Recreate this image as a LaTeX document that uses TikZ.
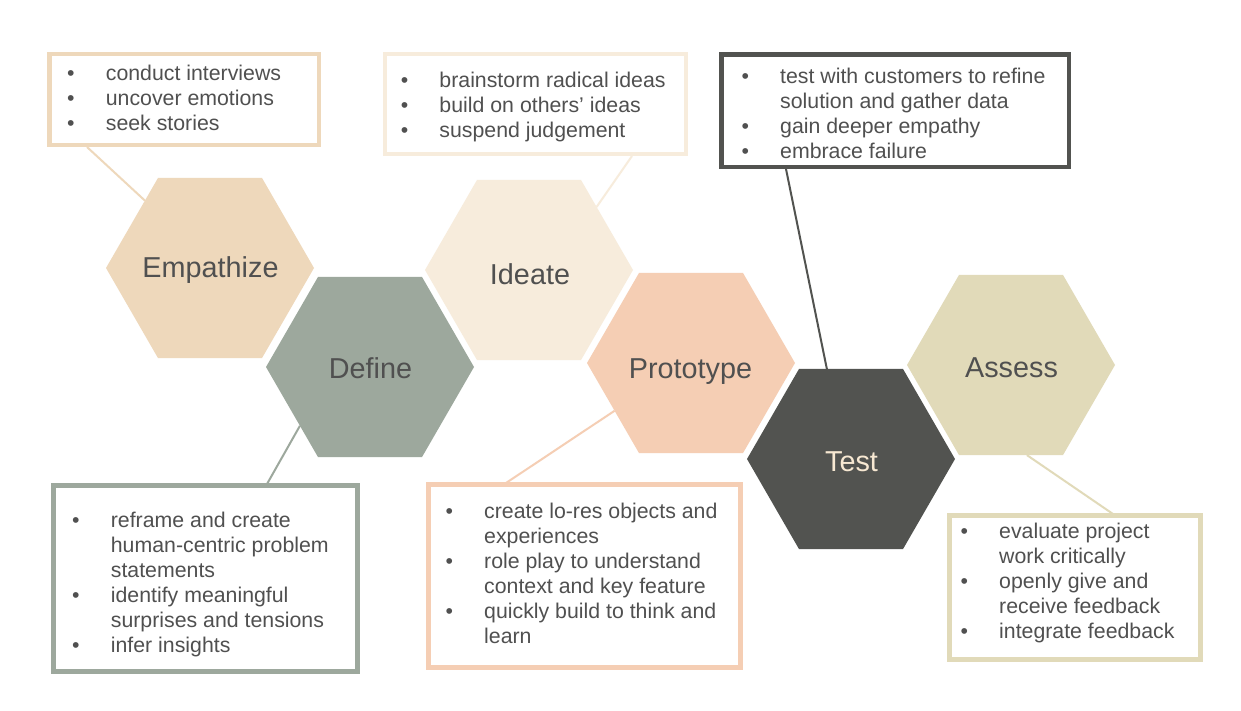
\documentclass[tikz,border=0pt]{standalone}
\usepackage{fontspec}
\setmainfont{Liberation Sans}
\usetikzlibrary{shapes.geometric}
\definecolor{cEmp}{RGB}{238,216,187}
\definecolor{cDef}{RGB}{157,168,157}
\definecolor{cIde}{RGB}{247,236,220}
\definecolor{cPro}{RGB}{245,206,180}
\definecolor{cTst}{RGB}{82,83,80}
\definecolor{cAss}{RGB}{225,218,185}
\definecolor{cText}{RGB}{80,80,80}
\definecolor{cCream}{RGB}{247,232,210}
\newcommand\bitem{\makebox[38.7pt][l]{\textbullet}}
\tikzset{
  hexa/.style={regular polygon, regular polygon sides=6, minimum size=208pt, inner sep=0pt, outer sep=0pt, draw=none},
  hexlabel/.style={anchor=base, font=\fontsize{28.8}{34}\selectfont, text=cText, inner sep=0pt},
  infobox/.style={rectangle, line width=4.5pt, fill=white, inner sep=0pt, outer sep=0pt},
  bullets/.style={anchor=base west, inner sep=0pt, font=\fontsize{21.3}{25}\selectfont, text=cText},
  link/.style={line width=2pt},
}
\begin{document}
\begin{tikzpicture}[x=1pt,y=-1pt]
\useasboundingbox (0,0) rectangle (1241,710);
\fill[white] (0,0) rectangle (1241,710);
% hexagons
\node[hexa, fill=cEmp] (emp) at (210,268) {};
\node[hexa, fill=cDef] (def) at (370,367) {};
\node[hexa, fill=cIde] (ide) at (529,270) {};
\node[hexa, fill=cPro] (pro) at (691,363) {};
\node[hexa, fill=cTst] (tst) at (851,459) {};
\node[hexa, fill=cAss] (ass) at (1011,365) {};
% hexagon labels
\node[hexlabel] (empL) at (210.5,277.3) {Empathize};
\node[hexlabel] (defL) at (370.5,378) {Define};
\node[hexlabel] (ideL) at (530,284) {Ideate};
\node[hexlabel] (proL) at (690.5,378) {Prototype};
\node[hexlabel, text=cCream] (tstL) at (851.5,471) {Test};
\node[hexlabel] (assL) at (1011.5,377) {Assess};
% connector start points
\coordinate (empA) at (87,147);
\coordinate (ideA) at (632,156);
\coordinate (tstA) at (786,169);
\coordinate (defA) at (267,484);
\coordinate (proA) at (506,483);
\coordinate (assA) at (1113,514);
\draw[link, cEmp] (empA) -- (emp.134);
\draw[link, cIde] (ideA) -- (ide.43);
\draw[link, cTst] (tstA) -- (tst.105);
\draw[link, cDef] (defA) -- (def.220.6);
\draw[link, cPro] (proA) -- (pro.212.8);
\draw[link, cAss] (assA) -- (ass.280.7);
% boxes
\node[infobox, draw=cEmp, minimum width=269.5pt, minimum height=91pt] (empbox) at (184.25,99.5) {};
\node[infobox, draw=cIde, minimum width=301pt, minimum height=100pt] (idebox) at (535.5,104) {};
\node[infobox, draw=cTst, minimum width=347.5pt, minimum height=112.5pt] (tstbox) at (895.25,110.75) {};
\node[infobox, draw=cDef, minimum width=304pt, minimum height=186pt] (defbox) at (205.5,578.5) {};
\node[infobox, draw=cPro, minimum width=312pt, minimum height=183pt] (probox) at (584.5,576) {};
\node[infobox, draw=cAss, minimum width=251pt, minimum height=144pt] (assbox) at (1075,587.5) {};
% texts
\node[bullets] (empT) at (67,80.7) {\begin{tabular}[t]{@{}l@{}l@{}}
\bitem & conduct interviews\\
\bitem & uncover emotions\\
\bitem & seek stories
\end{tabular}};
\node[bullets] (ideT) at (400.6,87.7) {\begin{tabular}[t]{@{}l@{}l@{}}
\bitem & brainstorm radical ideas\\
\bitem & build on others’ ideas\\
\bitem & suspend judgement
\end{tabular}};
\node[bullets] (tstT) at (741.3,83.5) {\begin{tabular}[t]{@{}l@{}l@{}}
\bitem & test with customers to refine\\
 & solution and gather data\\
\bitem & gain deeper empathy\\
\bitem & embrace failure
\end{tabular}};
\node[bullets] (defT) at (72,527) {\begin{tabular}[t]{@{}l@{}l@{}}
\bitem & reframe and create\\
 & human-centric problem\\
 & statements\\
\bitem & identify meaningful\\
 & surprises and tensions\\
\bitem & infer insights
\end{tabular}};
\node[bullets] (proT) at (445.3,518) {\begin{tabular}[t]{@{}l@{}l@{}}
\bitem & create lo-res objects and\\
 & experiences\\
\bitem & role play to understand\\
 & context and key feature\\
\bitem & quickly build to think and\\
 & learn
\end{tabular}};
\node[bullets] (assT) at (960.3,538) {\begin{tabular}[t]{@{}l@{}l@{}}
\bitem & evaluate project\\
 & work critically\\
\bitem & openly give and\\
 & receive feedback\\
\bitem & integrate feedback
\end{tabular}};
\end{tikzpicture}
\end{document}
